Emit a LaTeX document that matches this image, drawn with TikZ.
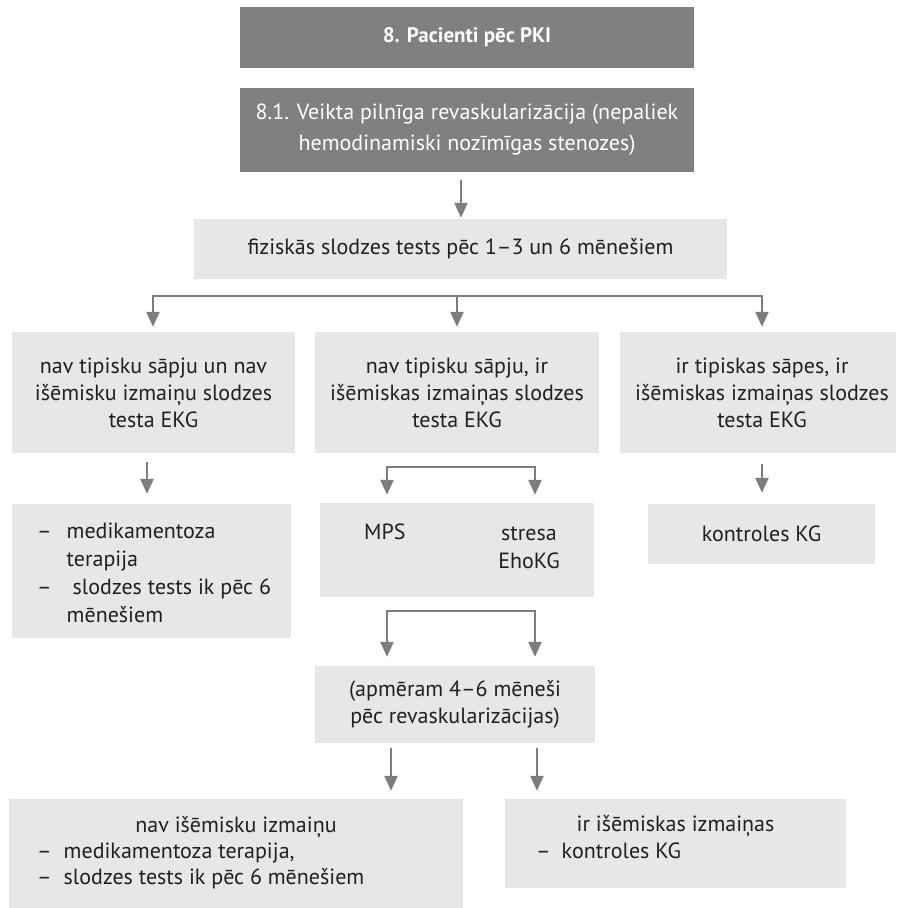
\documentclass[tikz,border=0pt]{standalone}
\usepackage{fontspec}
\setmainfont{PT Sans}
\usetikzlibrary{arrows.meta,calc}
\definecolor{dk}{HTML}{808083}
\definecolor{lt}{HTML}{E6E7E8}
\definecolor{ar}{HTML}{7D7D80}
\definecolor{tx}{HTML}{231F20}
\begin{document}
\begin{tikzpicture}[x=1pt,y=-1pt,
  dbox/.style={fill=dk, inner sep=0pt, text=white, align=center},
  lbox/.style={fill=lt, inner sep=0pt, text=tx, align=center},
  ttext/.style={inner sep=0pt, text=tx, anchor=base west},
  arr/.style={draw=ar, line width=2.4pt, -{Triangle[width=13pt,length=15pt]}},
  font=\fontsize{22}{27}\selectfont]
\useasboundingbox (0,0) rectangle (897,908);

% top dark boxes
\node[dbox, minimum width=454pt, minimum height=61pt, font=\fontsize{21}{27}\selectfont\bfseries] (t) at (467,37.5) {8. Pacienti pēc PKI};
\node[dbox, minimum width=454pt, minimum height=84pt, font=\fontsize{22}{31}\selectfont] (v) at (467,130) {8.1. Veikta pilnīga revaskularizācija (nepaliek\\hemodinamiski nozīmīgas stenozes)};

% exercise test
\node[lbox, minimum width=533pt, minimum height=60pt] (f) at (460.5,249) {fiziskās slodzes tests pēc 1–3 un 6 mēnešiem};

% second row
\node[lbox, minimum width=283pt, minimum height=121pt] (a) at (153.5,392.5) {nav tipisku sāpju un nav\\išēmisku izmaiņu slodzes\\testa EKG};
\node[lbox, minimum width=284pt, minimum height=121pt] (b) at (457,392.5) {nav tipisku sāpju, ir\\išēmiskas izmaiņas slodzes\\testa EKG};
\node[lbox, minimum width=276pt, minimum height=121pt] (c) at (758,392.5) {\hspace*{8pt}ir tipiskas sāpes, ir\\\hspace*{8pt}išēmiskas izmaiņas slodzes\\\hspace*{8pt}testa EKG};

% third row
\node[lbox, minimum width=279pt, minimum height=134pt] (d) at (151.5,571) {};
\node[ttext, font=\fontsize{22}{28.3}\selectfont] (dt) at (37,538) {\begin{tabular}[t]{@{}l@{\hspace{15pt}}l@{}}–&medikamentoza\\&terapija\\–&\hspace{6pt}slodzes tests ik pēc 6\\&mēnešiem\end{tabular}};

\node[lbox, minimum width=274pt, minimum height=94pt] (e) at (457,550) {};
\node[ttext] (mps) at (364,539) {MPS};
\node[ttext, anchor=base, font=\fontsize{22}{28}\selectfont] (eho) at (529,540) {\begin{tabular}[t]{@{}c@{}}stresa\\EhoKG\end{tabular}};

\node[lbox, minimum width=227pt, minimum height=60pt] (k) at (761.5,534) {kontroles KG};

% fourth row
\node[lbox, minimum width=280pt, minimum height=77pt] (g) at (455,704.5) {(apmēram 4–6 mēneši\\pēc revaskularizācijas)};

% bottom row
\node[lbox, minimum width=454pt, minimum height=109pt] (h) at (236,853.5) {};
\node[ttext, anchor=base] (ht) at (236,832) {nav išēmisku izmaiņu};
\node[ttext, font=\fontsize{22}{26}\selectfont] (hl) at (37,858) {\begin{tabular}[t]{@{}l@{\hspace{12pt}}l@{}}–&medikamentoza terapija,\\–&slodzes tests ik pēc 6 mēnešiem\end{tabular}};

\node[lbox, minimum width=341pt, minimum height=89pt] (i) at (675.5,843.5) {};
\node[ttext, anchor=base] (it) at (675.5,831) {ir išēmiskas izmaiņas};
\node[ttext] (il) at (536,858) {\begin{tabular}[t]{@{}l@{\hspace{11pt}}l@{}}–&kontroles KG\end{tabular}};

% connectors
\draw[arr] ($(v.south)+(-6,8)$) -- ($(f.north)+(0.5,-1)$);

\coordinate (fl) at (153,296);
\coordinate (fm) at (457,296);
\coordinate (fr) at (762,296);
\draw[arr, shorten >=5pt] (fr) -- (fl) -- (fl |- a.north);
\draw[arr, shorten >=5pt] (fl) -- (fr) -- (fr |- c.north);
\draw[arr, shorten >=5pt] (fm) -- (fm |- b.north);

\coordinate (ad) at ($(a.south)+(-6.5,9)$);
\draw[arr, shorten >=10pt] (ad) -- (ad |- d.north);

\coordinate (bl) at (387,467);
\coordinate (br) at (535,467);
\draw[arr, shorten >=8pt] (br) -- (bl) -- (bl |- e.north);
\draw[arr, shorten >=8pt] (bl) -- (br) -- (br |- e.north);

\coordinate (ck) at ($(c.south)+(4,11)$);
\draw[arr, shorten >=11pt] (ck) -- (ck |- k.north);

\coordinate (el) at (387,611);
\coordinate (er) at (535,611);
\draw[arr, shorten >=9pt] (er) -- (el) -- (el |- g.north);
\draw[arr, shorten >=9pt] (el) -- (er) -- (er |- g.north);

\coordinate (g1) at ($(g.south)+(-64,5)$);
\coordinate (g2) at ($(g.south)+(82,5)$);
\draw[arr, shorten >=8pt] (g1) -- (g1 |- h.north);
\draw[arr, shorten >=8pt] (g2) -- (g2 |- i.north);
\end{tikzpicture}
\end{document}
